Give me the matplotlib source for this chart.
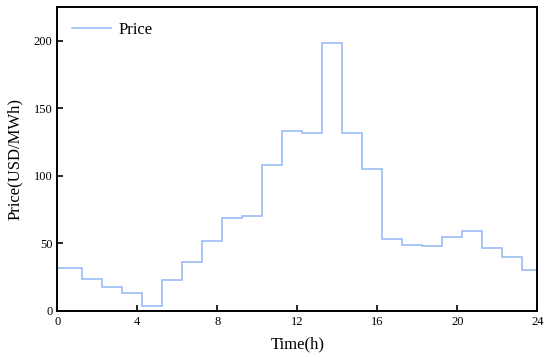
import matplotlib
matplotlib.use("Agg")
import matplotlib.pyplot as plt
import numpy as np

# hourly price, steps switch a quarter past each hour
hours = np.array([0] + [h + 0.25 for h in range(1, 24)] + [24])
price = [32, 23.6, 17.5, 13.1, 3.9, 22.7, 36, 51.5, 69, 70, 108, 133,
         132, 198.5, 132, 105, 53.2, 48.5, 47.8, 54.9, 59.3, 46.3, 40, 30]
xticks = [0, 4, 8, 12, 16, 20, 24]
yticks = [0, 50, 100, 150, 200]

plt.rcParams["font.family"] = ["Liberation Serif", "DejaVu Serif"]

fig = plt.figure(figsize=(5.5, 3.57), dpi=100)
ax = fig.add_axes([0.104, 0.129, 0.873, 0.851])
ax.stairs(price, hours, color="#92b6f2", linewidth=1.1, label="Price", baseline=None)
ax.set_xlim(0, 24)
ax.set_ylim(0, 225)
ax.set_xticks(xticks)
ax.set_yticks(yticks)
ax.tick_params(direction="in", length=4, width=1.2, labelsize=9)
for s in ax.spines.values():
    s.set_linewidth(1.4)
ax.set_xlabel("Time(h)", fontsize=12, labelpad=6)
ax.set_ylabel("Price(USD/MWh)", fontsize=12, labelpad=8)
ax.legend(loc="upper left", frameon=False, fontsize=12, handlelength=2.3,
          handletextpad=0.5)
fig.savefig("out.png", dpi=100)
